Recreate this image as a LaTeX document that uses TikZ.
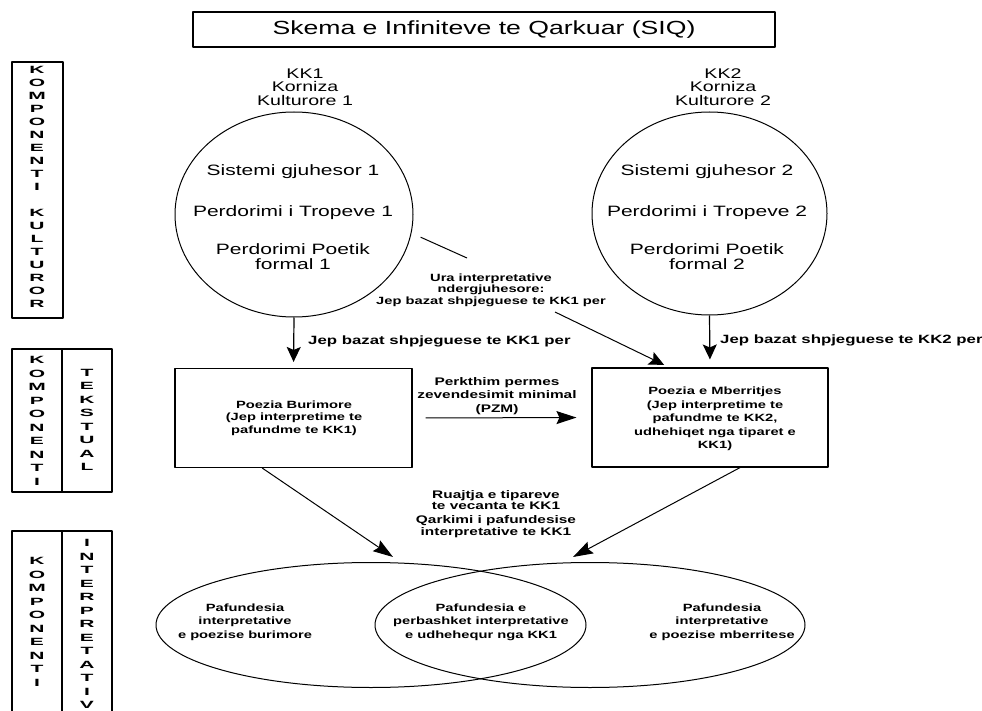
\documentclass[tikz,border=0pt]{standalone}
\usepackage{fontspec}
\setmainfont{Liberation Sans}[FakeStretch=1.4]
\newfontfamily\letfont{Liberation Sans}[FakeStretch=2]
\usetikzlibrary{shapes.geometric,arrows.meta}

\tikzset{
  frame/.style={draw,line width=1.1pt},
  ring/.style={draw,ellipse,line width=1pt,inner sep=0pt},
  bigtxt/.style={font=\fontsize{15}{15}\selectfont,align=center,inner sep=0pt},
  smalltxt/.style={font=\bfseries\fontsize{11}{13.5}\selectfont,align=center,inner sep=0pt},
  vlet/.style={font=\letfont\bfseries\fontsize{10.5}{13.5}\selectfont,align=center,inner sep=0pt},
  downarr/.style={-{Stealth[length=15pt,width=14pt,inset=3pt]},line width=1.2pt},
  sidearr/.style={-{Stealth[length=20pt,width=13pt,inset=3pt]},line width=1pt},
}

\begin{document}
\begin{tikzpicture}[x=1pt,y=-1pt,line join=round]
\useasboundingbox (0,0) rectangle (982,711);
\clip (0,0) rectangle (982,711);

% title
\node[frame,minimum width=582pt,minimum height=35pt,font=\fontsize{19}{22}\selectfont] (title) at (484,29.5) {Skema e Infiniteve te Qarkuar (SIQ)};

% left column
\draw[frame] (12,62) rectangle (63,318);
\draw[frame] (12,349) rectangle (112,492);
\draw[frame] (62,349) -- (62,492);
\draw[frame] (12,531) rectangle (112,730);
\draw[frame] (62,531) -- (62,730);
\node[vlet,font=\letfont\bfseries\fontsize{10.5}{13}\selectfont] (kult) at (37,187) {K\\O\\M\\P\\O\\N\\E\\N\\T\\I\\[13pt]K\\U\\L\\T\\U\\R\\O\\R};
\node[vlet] (komp2) at (37,421) {K\\O\\M\\P\\O\\N\\E\\N\\T\\I};
\node[vlet] (teks) at (87,420) {T\\E\\K\\S\\T\\U\\A\\L};
\node[vlet] (komp3) at (37,622) {K\\O\\M\\P\\O\\N\\E\\N\\T\\I};
\node[vlet] (intp) at (87,624) {I\\N\\T\\E\\R\\P\\R\\E\\T\\A\\T\\I\\V};

% kulturore
\node[bigtxt,font=\fontsize{14}{13.5}\selectfont] (kk1) at (305,87) {KK1\\Korniza\\Kulturore 1};
\node[bigtxt,font=\fontsize{14}{13.5}\selectfont] (kk2) at (723,87) {KK2\\Korniza\\Kulturore 2};
\node[ring,minimum width=238pt,minimum height=205pt] (c1) at (294,214.5) {};
\node[ring,minimum width=235pt,minimum height=203pt] (c2) at (709.5,213.5) {};
\node[bigtxt] (s1) at (293,172) {Sistemi gjuhesor 1};
\node[bigtxt] (t1) at (293,213) {Perdorimi i Tropeve 1};
\node[bigtxt] (p1) at (293,257) {Perdorimi Poetik\\formal 1};
\node[bigtxt] (s2) at (707,172) {Sistemi gjuhesor 2};
\node[bigtxt] (t2) at (707,213) {Perdorimi i Tropeve 2};
\node[bigtxt] (p2) at (707,257) {Perdorimi Poetik\\formal 2};

% tekstual
\node[frame,minimum width=237pt,minimum height=99pt] (b1) at (293.5,418) {};
\node[frame,minimum width=236pt,minimum height=99pt] (b2) at (710,417.5) {};
\node[smalltxt,font=\bfseries\fontsize{10.5}{12.5}\selectfont] (burim) at (294,418) {Poezia Burimore\\(Jep interpretime te\\pafundme te KK1)};
\node[smalltxt,font=\bfseries\fontsize{10.5}{13.5}\selectfont] (mberr) at (715,419) {Poezia e Mberritjes\\(Jep interpretime te\\pafundme te KK2,\\udhehiqet nga tiparet e\\KK1)};

\draw[downarr,shorten >=6pt] (c1.south) -- (b1.north);
\draw[downarr,shorten >=8pt] (c2.south) -- (b2.north);
\node[smalltxt,font=\bfseries\fontsize{12}{13.5}\selectfont,anchor=west] (jep1) at (308,341) {Jep bazat shpjeguese te KK1 per};
\node[smalltxt,font=\bfseries\fontsize{12}{13.5}\selectfont,anchor=west] (jep2) at (720,340) {Jep bazat shpjeguese te KK2 per};

% ura
\node[smalltxt,font=\bfseries\fontsize{10.5}{11.5}\selectfont] (ura) at (491,290) {Ura interpretative\\ndergjuhesore:\\Jep bazat shpjeguese te KK1 per};
\coordinate (ua) at (467,258);
\coordinate (ub) at (555,312);
\draw[line width=1pt,shorten <=10pt] (c1.-9) -- (ua);
\draw[downarr,line width=1pt,shorten >=6pt] (ub) -- (b2.129);

% pzm
\node[smalltxt] (pzm) at (497,396) {Perkthim permes\\zevendesimit minimal\\(PZM)};
\draw[sidearr,shorten <=13pt,shorten >=15pt] (b1.east) -- (b2.west);

% interpretativ
\node[ring,minimum width=430pt,minimum height=125pt] (e1) at (371,625) {};
\node[ring,minimum width=430pt,minimum height=125pt] (e2) at (590,625) {};
\node[smalltxt,font=\bfseries\fontsize{10.5}{13.5}\selectfont] (f1) at (245,622) {Pafundesia\\interpretative\\e poezise burimore};
\node[smalltxt,font=\bfseries\fontsize{10.5}{13.5}\selectfont] (f2) at (481,622) {Pafundesia e\\perbashket interpretative\\e udhehequr nga KK1};
\node[smalltxt,font=\bfseries\fontsize{10.5}{13.5}\selectfont] (f3) at (722,622) {Pafundesia\\interpretative\\e poezise mberritese};
\node[smalltxt,font=\bfseries\fontsize{11}{11.5}\selectfont] (ruaj) at (496,500) {Ruajtja e tipareve\\te vecanta te KK1};
\node[smalltxt,font=\bfseries\fontsize{11}{12}\selectfont] (qark) at (496,527) {Qarkimi i pafundesise\\interpretative te KK1};
\coordinate (ta) at (393,557);
\coordinate (tb) at (573,557);
\draw[sidearr] (b1.-122) -- (ta);
\draw[sidearr] (b2.-59) -- (tb);
\end{tikzpicture}
\end{document}
